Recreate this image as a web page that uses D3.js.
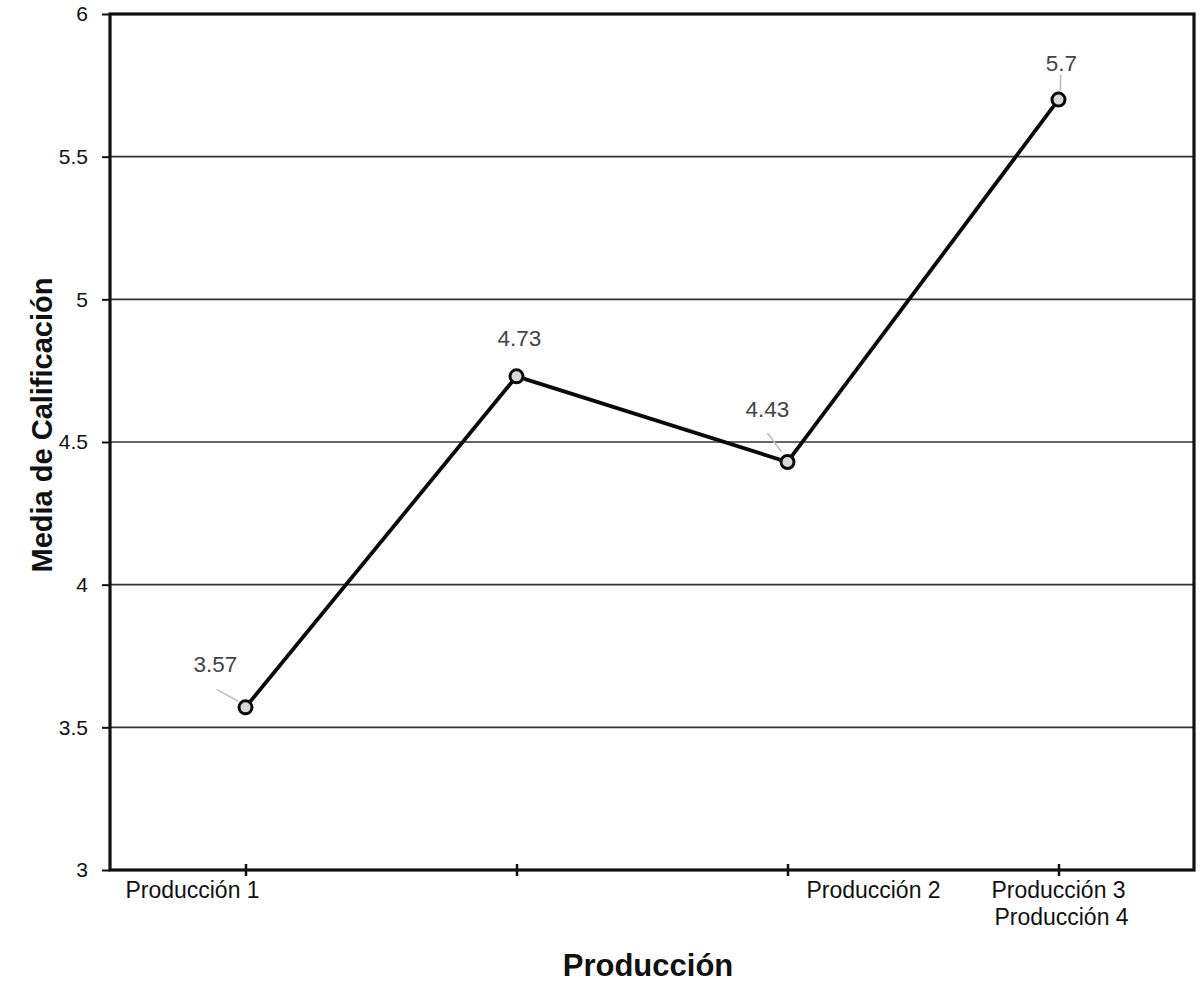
<!DOCTYPE html>
<html>
<head>
<meta charset="utf-8">
<script src="https://cdn.jsdelivr.net/npm/d3@7"></script>
<style>
  html, body { margin: 0; padding: 0; background: #fff; }
  svg { display: block; font-family: "Liberation Sans", Arial, sans-serif; }
</style>
</head>
<body>
<svg id="chart" width="1200" height="983"></svg>
<script>
// Mean rating per production
const categories = ["Producción 1", "Producción 2", "Producción 3", "Producción 4"];
const values = [3.57, 4.73, 4.43, 5.7];
const yTicks = [3, 3.5, 4, 4.5, 5, 5.5, 6];
const xTickLabels = ["Producción 1", "Producción 2", "Producción 3", "Producción 4"];
const xTitle = "Producción";
const yTitle = "Media de Calificación";

const svg = d3.select("#chart");
const plot = { left: 110, right: 1194, top: 14, bottom: 870 };

const x = d3.scalePoint().domain(categories).range([plot.left, plot.right]).padding(0.5);
const y = d3.scaleLinear().domain([3, 6]).range([plot.bottom, plot.top]);

// horizontal grid lines
svg.append("g")
  .selectAll("line")
  .data(yTicks.filter(t => t > 3 && t < 6))
  .join("line")
  .attr("x1", plot.left).attr("x2", plot.right)
  .attr("y1", d => y(d)).attr("y2", d => y(d))
  .attr("stroke", "#333").attr("stroke-width", 1.6);

// y axis with outward ticks
const yAxis = svg.append("g")
  .attr("transform", `translate(${plot.left},0)`)
  .call(d3.axisLeft(y).tickValues(yTicks).tickFormat(d3.format("~g")).tickSize(8).tickPadding(14));
yAxis.select(".domain").remove();
yAxis.selectAll(".tick line").attr("stroke", "#111").attr("stroke-width", 2);
yAxis.selectAll(".tick text")
  .attr("font-size", 21).attr("fill", "#111")
  .attr("font-family", "Liberation Sans, Arial, sans-serif");

// frame around the plot
svg.append("rect")
  .attr("x", plot.left).attr("y", plot.top)
  .attr("width", plot.right - plot.left).attr("height", plot.bottom - plot.top)
  .attr("fill", "none").attr("stroke", "#111").attr("stroke-width", 3.2);

// x axis ticks crossing the baseline
const xAxis = svg.append("g")
  .attr("transform", `translate(0,${plot.bottom - 6})`)
  .call(d3.axisBottom(x).tickSize(12).tickFormat(""));
xAxis.select(".domain").remove();
xAxis.selectAll(".tick line").attr("stroke", "#111").attr("stroke-width", 2.5);

// category labels (placement as laid out under the axis)
const labelLayout = [
  { at: 0, dx: -53, line: 0 },
  { at: 2, dx: 86, line: 0 },
  { at: 3, dx: 0, line: 0 },
  { at: 3, dx: 3, line: 1 }
];
svg.append("g")
  .selectAll("text")
  .data(xTickLabels)
  .join("text")
  .attr("x", (d, i) => x(categories[labelLayout[i].at]) + labelLayout[i].dx)
  .attr("y", (d, i) => plot.bottom + 28 + labelLayout[i].line * 27)
  .attr("text-anchor", "middle")
  .attr("font-size", 23)
  .attr("fill", "#111")
  .text(d => d);

// series line
const line = d3.line()
  .x((d, i) => x(categories[i]))
  .y(d => y(d));
svg.append("path")
  .datum(values)
  .attr("d", line)
  .attr("fill", "none")
  .attr("stroke", "#0a0a0a")
  .attr("stroke-width", 3.8)
  .attr("stroke-linejoin", "round");

// value labels with leader lines
const valueLayout = [
  { dx: -30, dy: -35, leader: [[-29, -18], [-7, -6]] },
  { dx: 3, dy: -30, leader: null },
  { dx: -20, dy: -45, leader: [[-20, -29], [-6, -10]] },
  { dx: 3, dy: -29, leader: [[2, -25], [2, -9]] }
];
const labels = svg.append("g");
values.forEach((v, i) => {
  const px = x(categories[i]), py = y(v), L = valueLayout[i];
  if (L.leader) {
    labels.append("line")
      .attr("x1", px + L.leader[0][0]).attr("y1", py + L.leader[0][1])
      .attr("x2", px + L.leader[1][0]).attr("y2", py + L.leader[1][1])
      .attr("stroke", "#bbb").attr("stroke-width", 1.5);
  }
  labels.append("text")
    .attr("x", px + L.dx).attr("y", py + L.dy)
    .attr("text-anchor", "middle")
    .attr("font-size", 22.5)
    .attr("fill", "#444")
    .text(d3.format("~g")(v));
});

// point markers
svg.append("g")
  .selectAll("circle")
  .data(values)
  .join("circle")
  .attr("cx", (d, i) => x(categories[i]))
  .attr("cy", d => y(d))
  .attr("r", 6.5)
  .attr("fill", "#d8d8d8")
  .attr("stroke", "#0a0a0a")
  .attr("stroke-width", 3);

// axis titles
svg.append("text")
  .attr("x", 648).attr("y", 976)
  .attr("text-anchor", "middle")
  .attr("font-size", 31).attr("font-weight", "bold").attr("fill", "#111")
  .text(xTitle);

svg.append("text")
  .attr("transform", "translate(52,425) rotate(-90)")
  .attr("text-anchor", "middle")
  .attr("font-size", 29).attr("font-weight", "bold").attr("fill", "#111")
  .text(yTitle);
</script>
</body>
</html>
